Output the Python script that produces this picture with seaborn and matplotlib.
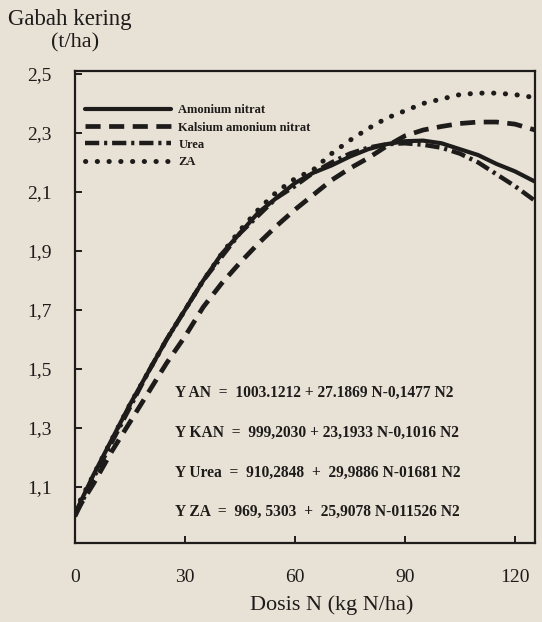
#importing libraries
import pandas as pd
import numpy as np
import matplotlib
matplotlib.use('Agg')
import matplotlib.pyplot as plt
import seaborn as sns
from matplotlib.ticker import FuncFormatter

#values (yield in t/ha)
dosis_n = [0, 5, 10, 15, 20, 25, 30, 35, 40, 45, 50, 55, 60, 65, 70, 75, 80, 85, 90, 95, 100, 105, 110, 115, 120, 125.5]
yield_an = [1.01, 1.14, 1.26, 1.38, 1.49, 1.60, 1.70, 1.80, 1.89, 1.96, 2.03, 2.08, 2.13, 2.165, 2.19, 2.22, 2.245, 2.262,
            2.272, 2.274, 2.265, 2.245, 2.225, 2.195, 2.17, 2.135]
yield_kan = [1.01, 1.11, 1.22, 1.32, 1.42, 1.52, 1.61, 1.71, 1.79, 1.86, 1.925, 1.985, 2.04, 2.09, 2.14, 2.18, 2.215, 2.255,
             2.29, 2.31, 2.322, 2.332, 2.337, 2.337, 2.33, 2.31]
yield_urea = [1.00, 1.13, 1.25, 1.37, 1.49, 1.60, 1.70, 1.80, 1.88, 1.96, 2.02, 2.08, 2.12, 2.165, 2.20, 2.23, 2.25, 2.262,
              2.265, 2.26, 2.25, 2.23, 2.20, 2.16, 2.12, 2.07]
yield_za = [1.02, 1.14, 1.26, 1.38, 1.49, 1.60, 1.70, 1.80, 1.89, 1.97, 2.04, 2.10, 2.145, 2.175, 2.23, 2.275, 2.315, 2.35,
            2.375, 2.40, 2.415, 2.43, 2.435, 2.435, 2.43, 2.42]

labels = ['Amonium nitrat', 'Kalsium amonium nitrat', 'Urea', 'ZA']
x_ticks = [0, 30, 60, 90, 120]
y_ticks = [1.1, 1.3, 1.5, 1.7, 1.9, 2.1, 2.3, 2.5]

equations = ['Y AN  =  1003.1212 + 27.1869 N-0,1477 N2',
             'Y KAN  =  999,2030 + 23,1933 N-0,1016 N2',
             'Y Urea  =  910,2848  +  29,9886 N-01681 N2',
             'Y ZA  =  969, 5303  +  25,9078 N-011526 N2']

#long format table for seaborn
df = pd.DataFrame({
    'dosis': dosis_n * 4,
    'hasil': yield_an + yield_kan + yield_urea + yield_za,
    'pupuk': np.repeat(labels, len(dosis_n)),
})

paper = '#e8e1d6'
ink = '#1e1c1a'

sns.set_style('ticks')
plt.rcParams['font.family'] = ['Liberation Serif', 'DejaVu Serif']

fig = plt.figure(figsize=(5.42, 6.22), dpi=100, facecolor=paper)
ax = fig.add_axes([75/542, 79/622, 460/542, 472/622])
ax.set_facecolor(paper)

styles = {
    'Amonium nitrat': dict(lw=3.0, ls='-'),
    'Kalsium amonium nitrat': dict(lw=3.4, dashes=(3.2, 1.8)),
    'Urea': dict(lw=3.2, dashes=(3.2, 1.1, 0.7, 1.1)),
    'ZA': dict(lw=3.6, dashes=(0.05, 2.3), dash_capstyle='round'),
}

for name in labels:
    sub = df[df['pupuk'] == name]
    sns.lineplot(x='dosis', y='hasil', data=sub, ax=ax, color=ink, label=name, **styles[name])

ax.set_xlim(0, 125.5)
ax.set_ylim(0.91, 2.51)
ax.set_xticks(x_ticks)
ax.set_yticks(y_ticks)
ax.yaxis.set_major_formatter(FuncFormatter(lambda v, p: '{:.1f}'.format(v).replace('.', ',')))
ax.tick_params(direction='in', length=5, width=1.4, colors=ink, labelsize=14)
ax.tick_params(axis='y', pad=17)
ax.tick_params(axis='x', pad=19)
for s in ax.spines.values():
    s.set_linewidth(1.6)
    s.set_color(ink)
    s.set_visible(True)
ax.set_xlabel('')
ax.set_ylabel('')

leg = ax.legend(loc='upper left', bbox_to_anchor=(0.01, 0.94), frameon=False,
                handlelength=6.9, handletextpad=0.6, labelspacing=0.42,
                prop={'size': 9, 'weight': 'bold'}, borderaxespad=0)
for t in leg.get_texts():
    t.set_color(ink)

#regression equations
eq_y = [0.318, 0.233, 0.148, 0.065]
for eq, yy in zip(equations, eq_y):
    ax.text(0.217, yy, eq, transform=ax.transAxes, fontsize=11.2, fontweight='bold',
            color=ink, va='center', ha='left')

fig.text(8/542, 1 - 20/622, 'Gabah kering', fontsize=16.5, color=ink, va='center', ha='left')
fig.text(75/542, 1 - 43/622, '(t/ha)', fontsize=16, color=ink, va='center', ha='center')
fig.text(332/542, 1 - 605/622, 'Dosis N (kg N/ha)', fontsize=16, color=ink, va='center', ha='center')

plt.savefig('out.png', dpi=100, facecolor=paper)
